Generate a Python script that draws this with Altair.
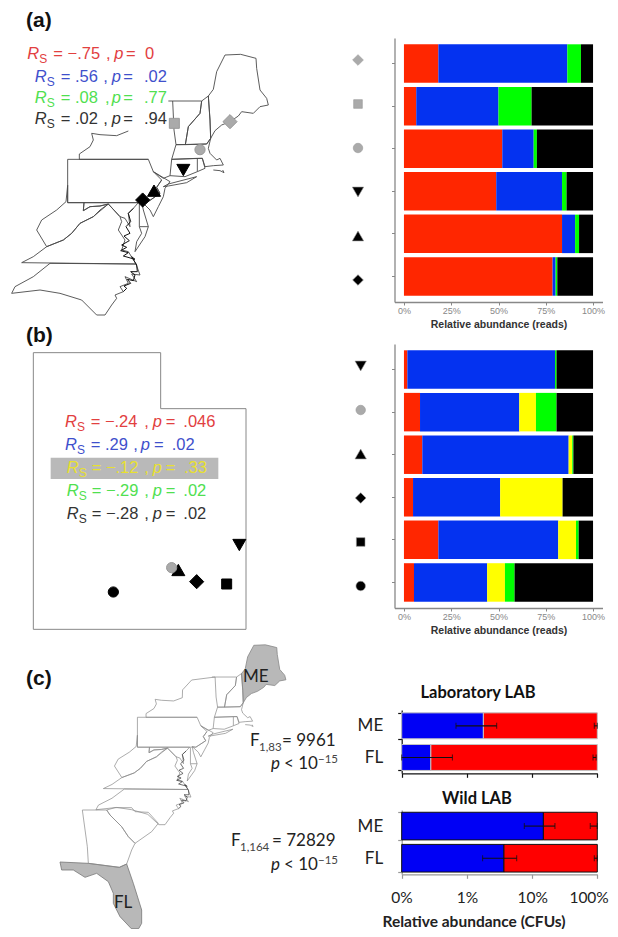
import altair as alt
import pandas as pd

# ---------- bar values (percent of reads) ----------
rows_a = ["gray diamond", "gray square", "gray circle", "tri down", "tri up", "diamond"]
a_red = [18.2, 6.5, 52.0, 48.8, 83.6, 78.6]
a_blue = [68.2, 43.5, 16.6, 34.8, 6.9, 1.6]
a_green = [7.2, 17.5, 1.7, 2.4, 2.1, 0.9]
a_black = [6.4, 32.5, 29.7, 14.0, 7.4, 18.9]

rows_b = ["tri down", "gray circle", "tri up", "diamond", "square", "circle"]
b_red = [1.8, 8.5, 9.7, 4.8, 18.2, 5.3]
b_blue = [78.1, 52.5, 77.4, 46.1, 63.4, 38.7]
b_yellow = [0.0, 8.8, 1.9, 33.0, 9.4, 9.4]
b_green = [0.8, 10.9, 0.6, 0.0, 1.4, 5.1]
b_black = [19.3, 19.3, 10.4, 16.1, 7.6, 41.5]

# ---------- bar values (percent of CFUs, log axis) ----------
states_c = ["ME", "FL"]
lab_blue = [1.79, 0.28]
wild_blue = [14.9, 3.7]
lab_err = [("ME", 0.68, 2.86), ("ME", 90, 100), ("FL", 0.1, 0.6), ("FL", 86, 96)]
wild_err = [("ME", 7.6, 22.4), ("ME", 78, 100), ("FL", 1.74, 5.8), ("FL", 90, 100)]

# ---------- map outlines, in map units ----------
maine = [(625,288),(640,268),(650,215),(675,165),(722,163),(768,175),(770,205),(780,270),(800,295),(805,315),(780,320),(760,340),(725,335),(715,348),(690,365),(665,375),(645,392),(632,415),(630,360),(625,288)]
new_hampshire = [(605,303),(625,288),(630,360),(632,415),(620,432),(556,434),(565,380),(600,340),(605,303)]
vermont = [(505,303),(605,303),(600,340),(565,380),(556,434),(528,434),(522,390),(518,303)]
massachusetts = [(528,434),(620,432),(632,415),(625,445),(630,460),(650,480),(660,475),(670,495),(640,497),(615,500),(607,475),(515,478),(528,434)]
connecticut = [(515,478),(592,475),(592,515),(555,530),(510,527),(515,478)]
rhode_island = [(592,475),(607,475),(615,505),(592,515)]
new_york_west = [(445,478),(238,478),(238,462),(270,440),(280,420),(275,400),(300,404),(350,407),(385,393)]
new_york_north = [(385,393),(386,359),(423,316),(518,303)]
new_york_east = [(460,515),(490,535),(510,527)]
long_island = [(490,560),(505,552),(590,530),(560,548),(505,558),(490,560)]
cape_islands = [(640,510),(660,512),(672,518),(668,510)]
pennsylvania = [(203,478),(445,478),(460,515),(485,540),(470,562),(480,580),(440,608),(203,608),(203,478)]
new_jersey = [(460,515),(510,545),(495,565),(490,590),(475,620),(460,650),(450,630),(425,605),(440,608),(480,580),(470,562),(485,540)]
delaware = [(418,610),(418,680),(445,680),(430,630),(425,605)]
maryland = [(252,608),(415,608),(400,625),(385,640),(390,680),(375,655),(360,650),(325,612),(300,618),(270,620),(250,632),(252,608)]
west_virginia = [(203,556),(203,608),(252,608),(250,632),(270,620),(300,618),(325,612),(300,630),(280,650),(240,670),(215,700),(190,720),(140,740),(110,690),(125,660),(170,630),(198,605),(203,556)]
virginia = [(65,788),(100,770),(140,740),(190,720),(215,700),(240,670),(280,650),(325,612),(360,650),(365,665),(355,690),(375,720),(365,750),(385,755),(408,792),(65,788)]
delmarva = [(445,680),(435,710),(405,755),(410,725),(425,700),(418,680)]
chesapeake = [(400,625),(385,640),(392,665),(378,680),(390,700),(372,708),(388,722),(365,735),(380,742),(362,752),(385,758),(370,768),(405,778),(395,770),(410,795)]
north_carolina = [(150,790),(100,830),(45,860),(35,880),(120,870),(180,880),(245,900),(290,945),(315,945),(335,915),(350,895),(345,885),(370,875),(360,860),(385,850),(375,830),(410,845),(395,822),(420,825),(408,792),(150,790)]
nc_sounds = [(370,875),(380,865),(372,858),(392,850),(382,838),(400,842),(405,825),(392,815),(412,815),(410,795)]

south_carolina = [(320,510),(345,503),(395,503),(405,515),(445,517),(475,550),(455,575),(405,610),(385,590),(365,560),(330,525),(320,510)]
georgia = [(247,510),(320,510),(330,525),(365,560),(385,590),(405,610),(395,630),(380,672),(358,682),(265,670),(262,620),(247,510)]
florida = [(180,666),(265,670),(358,682),(380,672),(400,730),(425,810),(425,850),(416,866),(394,866),(360,830),(340,790),(340,760),(325,725),(290,700),(255,712),(220,690),(185,690),(180,666)]

utah = [(100,98),(482,98),(482,266),(738,266),(738,928),(100,928),(100,98)]

# sampling sites, in the same map units
sites_a = [("diamond",690,365,"#aaa"),("square",523,370,"#aaa"),("circle",600,449,"#aaa"),
           ("triangle-down",550,510,"#000"),("triangle-up",462,572,"#000"),("diamond",428,600,"#000")]
sites_b = [("triangle-down",718,675,"#000"),("triangle-up",535,750,"#000"),("circle",515,743,"#aaa"),
           ("diamond",590,785,"#000"),("square",680,792,"#000"),("circle",340,816,"#000")]

# ---------- layout ----------
W, H = 602, 921
M = 8
RED, BLUE, GREEN, YEL = "#ff2600", "#0432f0", "#00ff00", "#ffff00"
shape_size = {"diamond": 200, "square": 100, "circle": 105, "triangle-up": 170, "triangle-down": 170}
row_size = {"diamond": 115, "square": 75, "circle": 90, "triangle-up": 130, "triangle-down": 130}
keys_a = [("diamond","#aaa"),("square","#aaa"),("circle","#aaa"),("triangle-down","#000"),("triangle-up","#000"),("diamond","#000")]
keys_b = [("triangle-down","#000"),("circle","#aaa"),("triangle-up","#000"),("diamond","#000"),("square","#000"),("circle","#000")]


def px(v):
    return v - M


def outline_table(shapes):
    recs = []
    for name, pts in shapes.items():
        for i, (u, v) in enumerate(pts):
            recs.append({"shape": name, "i": i, "u": u, "v": v})
    return pd.DataFrame(recs)


def map_layer(shapes, xs, ys, color, width, fill=None):
    kw = {"fill": fill} if fill else {}
    return alt.Chart(outline_table(shapes)).mark_line(
        color=color, stroke=color, strokeWidth=width, strokeJoin="round", **kw
    ).encode(
        x=alt.X("u:Q", scale=xs, axis=None),
        y=alt.Y("v:Q", scale=ys, axis=None),
        detail="shape:N",
        order="i:Q",
    )


def sites_layer(sites, xs, ys):
    df = pd.DataFrame(sites, columns=["s", "u", "v", "f"])
    df["o"] = range(len(df))
    df["sz"] = df["s"].map(shape_size)
    df["st"] = df["f"].map({"#aaa": "#999", "#000": "#000"})
    return alt.Chart(df).mark_point(filled=True, opacity=1, strokeWidth=1).encode(
        x=alt.X("u:Q", scale=xs, axis=None),
        y=alt.Y("v:Q", scale=ys, axis=None),
        shape=alt.Shape("s:N", scale=None),
        fill=alt.Fill("f:N", scale=None),
        stroke=alt.Stroke("st:N", scale=None),
        size=alt.Size("sz:Q", scale=None),
        order="o:Q",
    )


def text_layer(recs, font, size, style="normal", weight="normal", align="left"):
    return alt.Chart(pd.DataFrame(recs)).mark_text(
        font=font, fontSize=size, fontStyle=style, fontWeight=weight, align=align, baseline="alphabetic"
    ).encode(
        x=alt.X("x:Q", scale=None, axis=None),
        y=alt.Y("y:Q", scale=None, axis=None),
        text="t:N",
        color=alt.Color("c:N", scale=None),
    )


def stacked_panel(rows, series, keys, top, bottom, keyx):
    recs = []
    for ri, r in enumerate(rows):
        start = 0.0
        for j, (col, vals) in enumerate(series):
            recs.append({"row": r, "start": start, "end": start + vals[ri], "col": col, "j": j})
            start += vals[ri]
    ys = alt.Scale(domain=rows, range=[px(top), px(bottom)], paddingInner=0.096, paddingOuter=0.148)
    xs = alt.Scale(domain=[-5, 105], range=[px(394.5), px(602.5)], nice=False, zero=False)
    bars = alt.Chart(pd.DataFrame(recs)).mark_bar(cornerRadius=0).encode(
        x=alt.X("start:Q", scale=xs, axis=alt.Axis(
            orient="bottom",
            values=[0, 25, 50, 75, 100], labelExpr="datum.value + '%'", grid=False,
            title="Relative abundance (reads)", titleFont="Liberation Sans", titleFontSize=10.5,
            titleFontWeight="bold", titleColor="#333", titlePadding=4,
            labelFont="Liberation Sans", labelFontSize=9, labelColor="#888", labelPadding=1,
            tickSize=3, tickColor="#888", domainColor="#888", domainWidth=1.3,
            labelFlush=False, labelOverlap=False, offset=px(bottom) - H)),
        x2="end:Q",
        y=alt.Y("row:N", sort=rows, scale=ys, axis=alt.Axis(
            orient="left",
            labels=False, title=None, grid=False, tickSize=3, tickColor="#888",
            domainColor="#888", domainWidth=1.3, offset=-px(394.5))),
        color=alt.Color("col:N", scale=None),
    )
    kdf = pd.DataFrame({"row": rows, "s": [k[0] for k in keys], "f": [k[1] for k in keys]})
    kdf["sz"] = kdf["s"].map(row_size)
    marks = alt.Chart(kdf).mark_point(filled=True, opacity=1, stroke="#999", strokeWidth=0.6).encode(
        x=alt.value(px(keyx)),
        y=alt.Y("row:N", sort=rows, scale=ys, axis=None),
        shape=alt.Shape("s:N", scale=None),
        fill=alt.Fill("f:N", scale=None),
        size=alt.Size("sz:Q", scale=None),
    )
    return [bars, marks]


def cfu_panel(blue, errs, top, bottom, pi, po, ink, stroke, labels):
    recs = []
    for r, b in zip(states_c, blue):
        recs.append({"row": r, "start": 0.1, "end": b, "col": "#0000f5", "j": 0})
        recs.append({"row": r, "start": b, "end": 100, "col": "#ff0000", "j": 1})
    xs = alt.Scale(type="log", domain=[0.1, 100], range=[px(401.7), px(597.3)], nice=False)
    ys = alt.Scale(domain=states_c, range=[px(top), px(bottom)], paddingInner=pi, paddingOuter=po)
    axis_kw = dict(
        orient="bottom",
        values=[0.1, 1, 10, 100], grid=False, tickSize=4, tickColor=ink, domainColor=ink,
        domainWidth=1.2, tickWidth=1.2, offset=px(bottom) - H, labelOverlap=False,
    )
    if labels:
        axis_kw.update(
            labelExpr="datum.value < 1 ? '0%' : datum.value + '%'", labelFont="Lato", labelFontSize=15.5,
            labelColor="#222", labelPadding=12, title="Relative abundance (CFUs)", titleFont="Lato",
            titleFontSize=15.5, titleFontWeight="bold", titleColor="#222", titlePadding=9,
            titleX=px(473.5), labelFlush=True, labelFlushOffset=11,
        )
    else:
        axis_kw.update(labels=False, title=None)
    bars = alt.Chart(pd.DataFrame(recs)).mark_bar(stroke=stroke, strokeWidth=1).encode(
        x=alt.X("start:Q", scale=xs, axis=alt.Axis(**axis_kw)),
        x2="end:Q",
        y=alt.Y("row:N", sort=states_c, scale=ys, axis=alt.Axis(
            orient="left",
            title=None, grid=False, tickBand="extent", tickSize=4, tickColor=ink, domainColor=ink,
            domainWidth=1.2, tickWidth=1.2, labelFont="Lato", labelFontSize=17, labelColor="#222",
            labelPadding=15, offset=-px(401.7))),
        color=alt.Color("col:N", scale=None),
    )
    edf = pd.DataFrame(errs, columns=["row", "lo", "hi"])
    rule = alt.Chart(edf).mark_rule(color="#111", strokeWidth=1.1).encode(
        x=alt.X("lo:Q", scale=xs, axis=None), x2="hi:Q",
        y=alt.Y("row:N", sort=states_c, scale=ys, axis=None),
    )
    caps = [
        alt.Chart(edf).mark_tick(color="#111", orient="vertical", size=6, thickness=1.1).encode(
            x=alt.X(f"{f}:Q", scale=xs, axis=None),
            y=alt.Y("row:N", sort=states_c, scale=ys, axis=None),
        )
        for f in ["lo", "hi"]
    ]
    return [bars, rule] + caps


# ---------- rich text ----------
def rs_line(base, color, origin_y, pieces):
    out = {"it": [], "reg": [], "sub": []}
    for kind, text, ux in pieces:
        y = origin_y + base / 3 + (4 if kind == "sub" else 0)
        out[kind].append({"x": px(ux / 3), "y": px(y), "t": text, "c": color})
    return out


def merge(lines):
    res = {"it": [], "reg": [], "sub": []}
    for l in lines:
        for k in res:
            res[k].extend(l[k])
    return res


def a_line(r, s, eq, comma, p, e2, val, color, base, ps):
    return rs_line(base, color, 0, [("it", "R", r), ("sub", "S", r + 36), ("reg", "= " + eq, s),
                                    ("reg", ",", comma), ("it", "p", p), ("reg", "=", e2), ("reg", val, ps)])


lines_a = merge([
    a_line(82, 160, "\u2212.75", 318, 343, 378, "0", "#e2403f", 178, 435),
    a_line(104, 182, ".56", 310, 335, 370, ".02", "#3f50cc", 245, 432),
    a_line(104, 182, ".08", 315, 335, 370, ".77", "#50e050", 310, 432),
    a_line(104, 182, ".02", 310, 335, 370, ".94", "#333333", 373, 432),
])


def b_line(r, s, eq, comma, p, e2, val, color, base, ps):
    return rs_line(base, color, 320, [("it", "R", r), ("sub", "S", r + 36), ("reg", "= " + eq, s),
                                      ("reg", ",", comma), ("it", "p", p), ("reg", "=", e2), ("reg", val, ps)])


lines_b = merge([
    b_line(195, 272, "\u2212.24", 433, 458, 497, ".046", "#e2403f", 322, 550),
    b_line(195, 272, ".29", 400, 422, 462, ".02", "#3f50cc", 390, 515),
    b_line(200, 275, "\u2212.12", 433, 458, 497, ".33", "#e8e030", 458, 552),
    b_line(200, 275, "\u2212.29", 433, 458, 497, ".02", "#50e050", 528, 550),
    b_line(200, 275, "\u2212.28", 433, 458, 497, ".02", "#333333", 598, 550),
])

DARK = "#222222"
stat_reg = [
    {"x": px(250), "y": px(746), "t": "F", "c": DARK},
    {"x": px(282), "y": px(746), "t": "= 9961", "c": DARK},
    {"x": px(231), "y": px(846), "t": "F", "c": DARK},
    {"x": px(272), "y": px(846), "t": "= 72829", "c": DARK},
    {"x": px(284), "y": px(769), "t": "< 10", "c": DARK},
    {"x": px(284), "y": px(870), "t": "< 10", "c": DARK},
    {"x": px(243), "y": px(682), "t": "ME", "c": DARK},
    {"x": px(114), "y": px(908), "t": "FL", "c": DARK},
]
stat_it = [
    {"x": px(271), "y": px(769), "t": "p", "c": DARK},
    {"x": px(271), "y": px(870), "t": "p", "c": DARK},
]
stat_sub = [
    {"x": px(259), "y": px(751), "t": "1,83", "c": "#444444"},
    {"x": px(240), "y": px(851), "t": "1,164", "c": "#444444"},
    {"x": px(318), "y": px(763), "t": "\u221215", "c": "#444444"},
    {"x": px(318), "y": px(864), "t": "\u221215", "c": "#444444"},
]

panel_tags = [
    {"x": px(26), "y": px(27), "t": "(a)", "c": "#111"},
    {"x": px(26), "y": px(342), "t": "(b)", "c": "#111"},
    {"x": px(26), "y": px(685), "t": "(c)", "c": "#111"},
]
titles_c = [
    {"x": px(478), "y": px(698), "t": "Laboratory LAB", "c": "#111"},
    {"x": px(477), "y": px(804), "t": "Wild LAB", "c": "#111"},
]

# ---------- scales of the map panels ----------
xa = alt.Scale(domain=[0, 930], range=[px(0), px(310)], nice=False, zero=False)
ya = alt.Scale(domain=[0, 960], range=[px(0), px(320)], nice=False, zero=False)
xb = alt.Scale(domain=[0, 930], range=[px(0), px(310)], nice=False, zero=False)
yb = alt.Scale(domain=[0, 960], range=[px(320), px(640)], nice=False, zero=False)
xc = alt.Scale(domain=[0, 930], range=[px(262 / 3), px((262 + 0.74 * 930) / 3)], nice=False, zero=False)
yc = alt.Scale(domain=[0, 960], range=[px(640 - 98 / 3), px(640 + (-98 + 0.69 * 960) / 3)], nice=False, zero=False)
xc2 = alt.Scale(domain=[0, 960], range=[px(0), px(320)], nice=False, zero=False)
yc2 = alt.Scale(domain=[0, 891], range=[px(640), px(937)], nice=False, zero=False)

shared = {
    "nh": new_hampshire, "vt": vermont, "ma": massachusetts, "ct": connecticut, "ri": rhode_island,
    "nyw": new_york_west, "nye": new_york_east, "li": long_island, "ci": cape_islands,
    "pa": pennsylvania, "nj": new_jersey, "de": delaware, "md": maryland, "wv": west_virginia,
    "va": virginia, "dm": delmarva, "nc": north_carolina,
}
inlets = {"ch": chesapeake, "snd": nc_sounds}

grey_box = alt.Chart(pd.DataFrame({"x": [px(152 / 3)], "x2": [px(655 / 3)], "y": [px(320 + 413 / 3)], "y2": [px(320 + 477 / 3)]})).mark_rect(color="#b9b9b9").encode(
    x=alt.X("x:Q", scale=None, axis=None), x2="x2:Q",
    y=alt.Y("y:Q", scale=None, axis=None), y2="y2:Q",
)

layers = [
    # panel (a)
    map_layer({**shared, "me": maine}, xa, ya, "#4a4a4a", 0.9),
    map_layer(inlets, xa, ya, "#111111", 1.0),
    sites_layer(sites_a, xa, ya),
    *stacked_panel(rows_a, [(RED, a_red), (BLUE, a_blue), (GREEN, a_green), ("#000000", a_black)], keys_a, 38, 302, 358),
    # panel (b)
    map_layer({"ut": utah}, xb, yb, "#888888", 1.0),
    sites_layer(sites_b, xb, yb),
    grey_box,
    *stacked_panel(rows_b, [(RED, b_red), (BLUE, b_blue), (YEL, b_yellow), (GREEN, b_green), ("#000000", b_black)], keys_b, 344, 608, 360.7),
    # panel (c)
    map_layer({"me": maine}, xc, yc, "#888888", 0.8, fill="#b8b8b8"),
    map_layer({**shared, "nyn": new_york_north}, xc, yc, "#888888", 0.7),
    map_layer(inlets, xc, yc, "#333333", 0.7),
    map_layer({"fl": florida}, xc2, yc2, "#777777", 0.8, fill="#b8b8b8"),
    map_layer({"sc": south_carolina, "ga": georgia}, xc2, yc2, "#888888", 0.7),
    *cfu_panel(lab_blue, lab_err, 710, 773.3, 0.18, 0.09, "#111111", "#c4c4c4", False),
    *cfu_panel(wild_blue, wild_err, 810, 874.3, 0.14, 0.07, "#999999", "#111111", True),
    # text
    text_layer(lines_a["it"] + lines_b["it"], "Liberation Sans", 16.5, style="italic"),
    text_layer(lines_a["reg"] + lines_b["reg"], "Liberation Sans", 16.5),
    text_layer(lines_a["sub"] + lines_b["sub"], "Liberation Sans", 12),
    text_layer(stat_reg, "Lato", 17),
    text_layer(stat_it, "Lato", 17, style="italic"),
    text_layer(stat_sub, "Lato", 11.5),
    text_layer(panel_tags, "Liberation Sans", 21, weight="bold"),
    text_layer(titles_c, "Lato", 16.5, weight="bold", align="center"),
]

chart = alt.layer(*layers).resolve_scale(x="independent", y="independent").resolve_axis(
    x="independent", y="independent"
).properties(
    width=W, height=H, padding=0, autosize=alt.AutoSizeParams(type="none"), background="white"
).configure_view(stroke=None)

chart.save("out.html", embed_options={"renderer": "svg", "actions": False})
